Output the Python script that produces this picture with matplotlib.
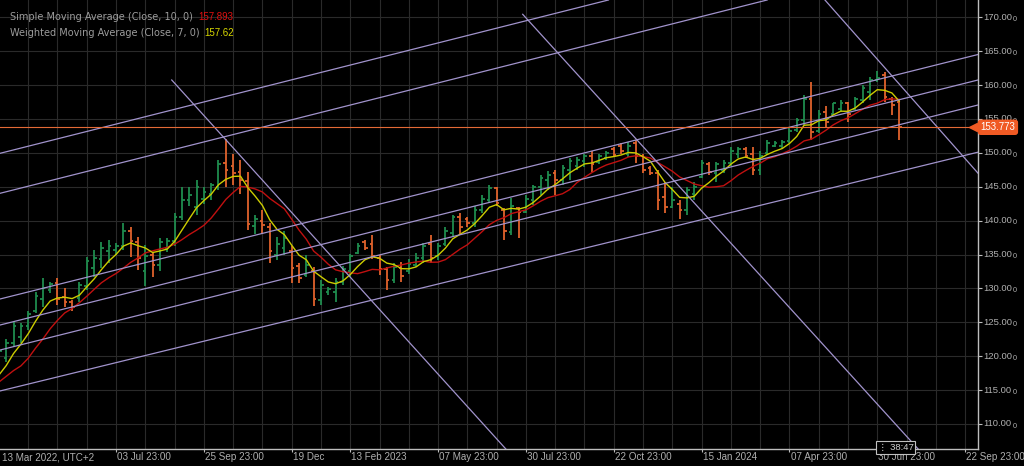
#Weekly OHLC chart with SMA(10), WMA(7) and drawn channel lines, dark terminal style
import matplotlib
matplotlib.use('Agg')
import matplotlib.pyplot as plt
import matplotlib.transforms as mtransforms
import numpy as np
import pandas as pd

#Weekly bars, week 0 = 13 Mar 2022
opens = [118.5, 119.8, 122.0, 122.8, 124.4, 126.6, 128.5, 129.8, 130.8, 128.7,
         128.0, 128.6, 130.3, 133.0, 134.3, 135.5, 135.6, 136.3, 138.5, 136.8,
         132.5, 135.0, 133.5, 136.0, 137.0, 140.5, 143.0, 142.0, 143.2, 144.0,
         145.0, 148.5, 148.0, 147.2, 145.8, 139.2, 140.0, 139.0, 135.0, 136.0,
         135.5, 133.3, 132.0, 132.5, 128.3, 129.4, 129.5, 131.0, 132.5, 135.2,
         136.8, 136.5, 134.5, 132.8, 131.2, 133.0, 132.5, 133.5, 134.5, 136.5,
         134.8, 136.5, 138.2, 140.5, 140.2, 139.6, 141.5, 143.0, 144.8, 141.5,
         138.3, 141.8, 141.3, 143.0, 145.0, 146.0, 147.0, 146.0, 147.5, 148.0,
         148.8, 149.6, 148.6, 149.3, 150.6, 151.0, 149.8, 151.5, 149.5, 147.8,
         147.0, 143.5, 142.0, 142.5, 141.5, 144.0, 146.5, 148.3, 147.0, 147.5,
         148.5, 149.8, 150.6, 149.8, 147.5, 150.0, 151.0, 151.0, 151.8, 153.3,
         154.8, 158.0, 153.2, 156.0, 155.8, 156.5, 157.3, 156.5, 157.8, 159.0,
         160.8, 161.5, 158.0, 157.5]
highs = [121.5, 122.5, 125.1, 124.9, 126.7, 129.5, 131.5, 131.0, 131.5, 130.0,
         128.3, 131.0, 134.7, 135.7, 136.9, 137.1, 136.7, 139.6, 139.1, 137.6,
         136.4, 135.4, 137.4, 137.4, 141.1, 145.0, 145.0, 146.0, 145.0, 145.6,
         148.9, 152.0, 149.9, 148.9, 147.2, 140.8, 141.6, 139.6, 137.6, 138.4,
         136.2, 133.7, 134.9, 133.2, 131.2, 130.2, 131.5, 133.3, 135.1, 136.7,
         137.1, 137.9, 134.9, 133.2, 133.7, 133.9, 134.4, 135.2, 136.7, 137.9,
         136.7, 139.1, 140.8, 141.1, 140.6, 142.1, 143.8, 145.3, 145.0, 141.8,
         143.3, 142.0, 143.8, 145.3, 146.7, 147.3, 147.5, 148.2, 149.2, 149.4,
         149.9, 150.2, 149.9, 150.2, 150.9, 151.4, 151.6, 151.9, 149.9, 148.0,
         147.5, 145.7, 145.0, 143.0, 145.0, 145.7, 148.9, 148.7, 148.7, 148.9,
         150.9, 150.9, 150.9, 150.9, 150.2, 151.9, 151.8, 151.9, 153.6, 155.1,
         158.5, 160.5, 156.3, 156.9, 157.3, 157.8, 157.5, 158.3, 160.0, 161.2,
         162.1, 162.0, 158.3, 157.8]
lows = [117.8, 119.2, 121.4, 121.9, 123.9, 126.4, 127.3, 129.3, 127.6, 127.3,
        126.6, 128.0, 129.8, 131.7, 133.0, 133.7, 134.9, 135.7, 134.7, 132.7,
        130.3, 131.7, 132.5, 135.4, 136.2, 140.1, 142.1, 140.8, 142.5, 143.0,
        144.5, 145.0, 145.3, 144.0, 138.6, 138.1, 138.1, 133.7, 134.2, 134.9,
        130.8, 130.8, 131.7, 127.4, 127.6, 129.0, 128.0, 130.5, 131.7, 135.1,
        135.7, 134.4, 132.0, 129.8, 130.8, 131.0, 132.2, 133.2, 133.7, 133.7,
        134.2, 136.2, 137.6, 137.9, 139.1, 139.1, 141.1, 142.6, 142.1, 137.1,
        137.9, 137.4, 141.1, 142.3, 143.8, 144.5, 143.8, 145.3, 146.0, 147.5,
        147.9, 147.2, 148.4, 149.0, 149.4, 149.9, 149.4, 148.5, 147.0, 146.8,
        141.6, 141.1, 141.8, 140.3, 140.8, 143.0, 146.3, 146.8, 145.7, 147.0,
        148.0, 149.2, 149.2, 146.7, 146.7, 149.7, 150.8, 150.7, 151.4, 153.1,
        154.1, 151.9, 152.9, 153.6, 155.6, 156.0, 154.6, 156.3, 157.3, 157.8,
        160.5, 157.5, 155.6, 151.9]
closes = [120.8, 122.0, 124.5, 124.4, 126.2, 128.9, 130.0, 130.6, 128.5, 128.0,
          127.3, 130.5, 134.0, 134.5, 136.0, 136.3, 136.3, 138.5, 137.0, 134.5,
          134.8, 133.5, 136.8, 137.0, 140.5, 143.0, 143.8, 145.0, 144.2, 145.2,
          148.3, 147.5, 147.0, 146.0, 139.5, 140.3, 139.3, 135.5, 136.5, 137.5,
          133.0, 131.5, 133.5, 128.5, 130.5, 129.9, 131.0, 132.8, 134.8, 136.3,
          136.0, 134.8, 132.8, 131.2, 133.2, 131.8, 133.6, 134.5, 136.2, 134.5,
          136.2, 138.5, 140.5, 139.0, 139.6, 141.5, 143.2, 144.8, 142.6, 138.5,
          142.2, 141.3, 143.2, 145.0, 146.3, 146.8, 146.0, 147.8, 148.8, 149.0,
          149.6, 148.3, 149.6, 150.0, 149.7, 150.2, 151.0, 149.5, 147.5, 147.0,
          143.0, 142.0, 143.0, 141.5, 144.5, 145.0, 148.5, 147.2, 148.3, 148.5,
          150.3, 150.5, 149.5, 147.5, 149.5, 151.5, 151.5, 151.6, 153.2, 154.8,
          158.0, 153.1, 155.8, 154.5, 157.4, 157.4, 155.8, 158.0, 159.5, 160.8,
          161.0, 158.2, 157.1, 153.773]
#closes of the 9 weeks before the window (only used to start the averages)
prior_close = [113.5, 116.0, 117.5, 115.0, 114.0, 116.5, 115.5, 116.0, 117.0]

sma_label = 'Simple Moving Average (Close, 10, 0)'
wma_label = 'Weighted Moving Average (Close, 7, 0)'
sma_value = '157.893'
wma_value = '157.62'
last_price = '153.773'
timer_text = '38:47'

first_label = '13 Mar 2022, UTC+2'
tick_weeks = [16, 28, 40, 48, 60, 72, 84, 96, 108, 120, 132]
tick_labels = ['03 Jul 23:00', '25 Sep 23:00', '19 Dec', '13 Feb 2023', '07 May 23:00',
               '30 Jul 23:00', '22 Oct 23:00', '15 Jan 2024', '07 Apr 23:00',
               '30 Jun 23:00', '22 Sep 23:00']
price_ticks = [110, 115, 120, 125, 130, 135, 140, 145, 150, 155, 160, 165, 170]

#drawn objects, two points (week, price) each
channel_lines = [((0.15, 149.93), (68.46, 168.52)),
                 ((0.15, 144.03), (68.46, 162.62)),
                 ((0.15, 128.44), (133.76, 164.51)),
                 ((0.15, 124.60), (133.76, 160.75)),
                 ((0.15, 120.91), (133.76, 157.06)),
                 ((0.15, 114.87), (133.76, 150.10))]
#rays: start point and one more point along the ray
rays = [((23.61, 160.75), (52.06, 126.82)),
        ((71.56, 170.44), (124.47, 107.63))]
diag_lines = [((112.85, 172.55), (133.58, 147.22))]

#colours
bg = '#000000'
grid_col = '#2a2a2a'
up_col = '#1f8c4e'
down_col = '#e0622c'
sma_col = '#c01010'
wma_col = '#cccc00'
draw_col = '#a193cc'
axis_col = '#bdbdbd'
text_col = '#b0b0b0'
tag_col = '#f05a24'

plt.rcParams['font.family'] = ['Liberation Sans', 'DejaVu Sans']

W, H = 1024, 466
fig = plt.figure(figsize=(W / 100, H / 100), dpi=100, facecolor=bg)
ax = fig.add_axes([0, 17 / H, 978 / W, 449 / H], facecolor=bg)
ax.set_xlim(0.15, 133.76)
ax.set_ylim(106.31, 172.55)

#grid
for w in range(4, 134, 4):
    ax.axvline(w, color=grid_col, lw=0.8, zorder=0)
for p in price_ticks:
    ax.axhline(p, color=grid_col, lw=0.8, zorder=0)

#moving averages
allc = pd.Series(prior_close + closes)
xs = np.arange(-len(prior_close), len(closes))
sma = allc.rolling(10).mean()
wts = np.arange(1, 8)
wma = allc.rolling(7).apply(lambda v: np.dot(v, wts) / wts.sum(), raw=True)

#OHLC bars
idx = np.arange(len(closes))
o = np.array(opens); h = np.array(highs); l = np.array(lows); c = np.array(closes)
cols = [up_col if c[i] >= o[i] else down_col for i in idx]
ax.vlines(idx, l, h, colors=cols, lw=1.3, zorder=2)
ax.hlines(o, idx - 0.36, idx, colors=cols, lw=1.3, zorder=2)
ax.hlines(c, idx, idx + 0.36, colors=cols, lw=1.3, zorder=2)

ax.plot(xs, sma, color=sma_col, lw=1.0, zorder=3)
ax.plot(xs, wma, color=wma_col, lw=1.0, zorder=3)

#channel and diagonal lines
for p1, p2 in channel_lines + diag_lines:
    ax.axline(p1, p2, color=draw_col, lw=0.9, zorder=4)
for p1, p2 in rays:
    p1 = np.array(p1); p2 = np.array(p2)
    end = p1 + 4 * (p2 - p1)
    ax.plot([p1[0], end[0]], [p1[1], end[1]], color=draw_col, lw=0.9, zorder=4)

#current price line
ax.axhline(closes[-1], color='#e46a36', lw=0.8, zorder=5)

#axes frame
for s in ['left', 'top']:
    ax.spines[s].set_visible(False)
for s in ['right', 'bottom']:
    ax.spines[s].set_color(axis_col)
    ax.spines[s].set_linewidth(1.0)
ax.yaxis.tick_right()
ax.set_yticks(price_ticks)
ax.set_yticklabels([])
ax.set_xticks(tick_weeks)
ax.set_xticklabels([])
ax.tick_params(axis='y', length=3, width=0.8, color=axis_col)
ax.tick_params(axis='x', length=2.5, width=0.8, color=axis_col)

#price labels with the small trailing digit
ylab = mtransforms.blended_transform_factory(ax.transAxes, ax.transData)
for p in price_ticks:
    ax.annotate('%.2f' % p, xy=(1, p), xycoords=ylab, xytext=(3.6, 0),
                textcoords='offset points', ha='left', va='center',
                fontsize=6.8, color=text_col, annotation_clip=False)
    ax.annotate('0', xy=(1, p), xycoords=ylab, xytext=(25.3, -1.6),
                textcoords='offset points', ha='left', va='center',
                fontsize=5.2, color=text_col, annotation_clip=False)

#date labels
xlab = mtransforms.blended_transform_factory(ax.transData, ax.transAxes)
ax.annotate(first_label, xy=(0, 0), xycoords='axes fraction', xytext=(1.4, -6.1),
            textcoords='offset points', ha='left', va='center',
            fontsize=7.1, color=text_col, annotation_clip=False)
for w, lab in zip(tick_weeks, tick_labels):
    ax.annotate(lab, xy=(w, 0), xycoords=xlab, xytext=(0.8, -6.1),
                textcoords='offset points', ha='left', va='center',
                fontsize=7.1, color=text_col, annotation_clip=False)

#last price tag
ax.plot([0.995], [closes[-1]], marker='<', ms=6, color=tag_col, transform=ylab,
        clip_on=False, zorder=7)
ax.annotate(last_price, xy=(1, closes[-1]), xycoords=ylab, xytext=(1.8, 0),
            textcoords='offset points', ha='left', va='center', fontsize=7,
            color='white', annotation_clip=False, zorder=8,
            bbox=dict(boxstyle='round,pad=0.28,rounding_size=0.3', fc=tag_col, ec='none'))

#bar timer
ax.annotate('\u22ee ' + timer_text, xy=(idx[-1] - 0.5, 0), xycoords=xlab,
            xytext=(0, 1.2), textcoords='offset points', ha='center', va='center',
            fontsize=6.8, color='#d0d0d0', annotation_clip=False, zorder=8,
            bbox=dict(boxstyle='square,pad=0.2', fc='black', ec='#c0c0c0', lw=0.8))

#legend in the top left corner
fig.canvas.draw()
r = fig.canvas.get_renderer()
for k, (lab, val, vcol) in enumerate([(sma_label, sma_value, '#e01010'),
                                     (wma_label, wma_value, '#d8d800')]):
    y = 1 - (17 + 16 * k) / H
    t = fig.text(10 / W, y, lab, fontsize=7, color='#9c9c9c', va='center',
                 family='DejaVu Sans')
    bb = t.get_window_extent(renderer=r)
    fig.text((bb.x1 + 5) / W, y, val, fontsize=7, color=vcol, va='center')

fig.savefig('out.png', dpi=100, facecolor=bg)
